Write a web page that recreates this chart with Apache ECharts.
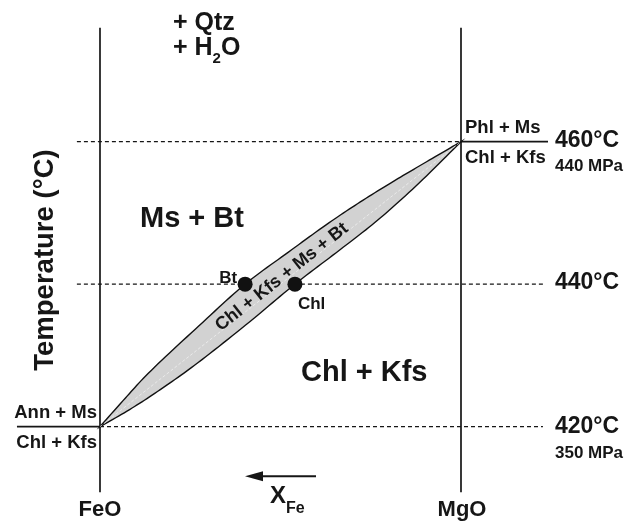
<!DOCTYPE html>
<html><head><meta charset="utf-8">
<script src="https://cdn.jsdelivr.net/npm/echarts@6/dist/echarts.min.js"></script>
<style>html,body{margin:0;padding:0;background:#fff}#c{width:635px;height:522px}</style>
</head><body><div id="c"></div>
<script>
// ---- data ----
// x: composition, 0 = FeO end, 100 = MgO end ; y: temperature (°C)
const endMembers = ['FeO', 'MgO'];
const isotherms = [420, 440, 460];
const isothermLabels = ['420°C', '440°C', '460°C'];
const pressureLabels = ['350 MPa', null, '440 MPa'];
// Bt (upper, Fe-richer) boundary of the Chl + Kfs + Ms + Bt loop
const btCurve = [[0,420],[7.0,424.0],[14.2,427.9],[27.5,434.2],[40.2,440],[52.2,444.5],[63.4,448.6],[72.9,451.8],[82.5,454.8],[91.2,457.4],[100,460]];
// Chl (lower) boundary
const chlCurve = [[0,420],[8.2,422.4],[16.7,425.2],[27.2,429.0],[41.4,434.7],[54.0,440],[66.4,444.8],[77.2,449.1],[88.4,454.2],[100,460]];
const btPoint = [40.2, 440];
const chlPoint = [54.0, 440];
const axisTempRange = [410.8, 476];

const FONT = '"Liberation Sans", Arial, Helvetica, sans-serif';
const INK = '#161616';

const chart = echarts.init(document.getElementById('c'), null, {renderer: 'canvas'});

function seg(data, dashed, w) {
  return {
    type: 'line', data: data, symbol: 'none', clip: false, silent: true, z: 1,
    lineStyle: {color: INK, width: w || 1.3, type: dashed ? [4, 3] : 'solid'},
    animation: false
  };
}

// Catmull-Rom smoothing in pixel space (same idea as a smoothed line)
function smoothPath(pts) {
  const out = [];
  for (let i = 0; i < pts.length - 1; i++) {
    const p0 = pts[Math.max(i - 1, 0)], p1 = pts[i], p2 = pts[i + 1], p3 = pts[Math.min(i + 2, pts.length - 1)];
    for (let k = 0; k < 12; k++) {
      const t = k / 12, t2 = t * t, t3 = t2 * t;
      const f = (a, b, c, d) => 0.5 * ((2 * b) + (-a + c) * t + (2 * a - 5 * b + 4 * c - d) * t2 + (-a + 3 * b - 3 * c + d) * t3);
      out.push([f(p0[0], p1[0], p2[0], p3[0]), f(p0[1], p1[1], p2[1], p3[1])]);
    }
  }
  out.push(pts[pts.length - 1]);
  return out;
}

const series = [
  seg([[0, axisTempRange[0]], [0, axisTempRange[1]]], false, 1.7),
  seg([[100, axisTempRange[0]], [100, axisTempRange[1]]], false, 1.7),
  // isotherms
  seg([[-6.4, isotherms[2]], [100, isotherms[2]]], true),
  seg([[100, isotherms[2]], [124.1, isotherms[2]]], false, 1.6),
  seg([[-6.4, isotherms[1]], [122.7, isotherms[1]]], true),
  seg([[0, isotherms[0]], [122.7, isotherms[0]]], true),
  seg([[-23, isotherms[0]], [0, isotherms[0]]], false, 1.6),
  // loop
  {
    type: 'custom', z: 2, silent: true, animation: false, clip: false,
    data: [0],
    renderItem: function (params, api) {
      const up = smoothPath(btCurve.map(p => api.coord(p)));
      const lo = smoothPath(chlCurve.map(p => api.coord(p)));
      const pts = up.concat(lo.slice(0, -1).reverse());
      const a = api.coord(btCurve[0]), b = api.coord(btCurve[btCurve.length - 1]);
      return {
        type: 'group',
        children: [
          {type: 'polygon', shape: {points: pts}, style: {fill: '#d2d2d2', stroke: '#111', lineWidth: 1.4, lineJoin: 'miter'}},
          {type: 'line', shape: {x1: a[0], y1: a[1], x2: b[0], y2: b[1]}, style: {stroke: '#f4f4f4', lineWidth: 0.7, lineDash: [3, 2]}}
        ]
      };
    }
  },
  {
    type: 'scatter', z: 3, silent: true, animation: false,
    symbolSize: 15, itemStyle: {color: '#111', opacity: 1},
    data: [btPoint, chlPoint]
  }
];

// grid spans the whole canvas; axis range chosen so FeO sits at x=100px, MgO at x=461px
chart.setOption({
  animation: false,
  backgroundColor: '#fff',
  grid: {left: 0, right: 0, top: 27.67, bottom: 24.08},
  xAxis: {type: 'value', min: -27.7, max: 148.2, show: false},
  yAxis: {type: 'value', min: 410, max: 476, show: false},
  series: series
});

// ---- text annotations ----
const mctx = document.createElement('canvas').getContext('2d');
function tw(t, size) { mctx.font = 'bold ' + size + 'px ' + FONT; return mctx.measureText(t).width; }
function txt(t, x, y, size, align, extra) {
  return Object.assign({
    type: 'text', x: x, y: y, z: 10, silent: true,
    style: {text: t, fill: INK, fontSize: size, fontWeight: 'bold', fontFamily: FONT,
            align: align || 'left', verticalAlign: 'middle', textAlign: align || 'left', textVerticalAlign: 'middle'}
  }, extra || {});
}
const px = p => chart.convertToPixel({gridIndex: 0}, p);
const yT = T => px([0, T])[1];
const xL = px([0, 420])[0], xR = px([100, 420])[0];

const g = [];
// + Qtz, + H2O
g.push(txt('+ Qtz', 173, 23.1, 25));
let hx = 173;
g.push(txt('+ H', hx, 48.1, 25)); hx += tw('+ H', 25);
g.push(txt('2', hx, 58.6, 15)); hx += tw('2', 15);
g.push(txt('O', hx, 48.1, 25));
// field labels
g.push(txt('Ms + Bt', 140, 218.8, 29));
g.push(txt('Chl + Kfs', 301, 372.5, 29));
// y title
g.push(txt('Temperature (°C)', 45, 260, 27.5, 'center', {rotation: Math.PI / 2}));
// reaction labels at the end members
const y420 = yT(isotherms[0]), y440 = yT(isotherms[1]), y460 = yT(isotherms[2]);
g.push(txt('Ann + Ms', xL - 3, y420 - 13.3, 18.5, 'right'));
g.push(txt('Chl + Kfs', xL - 3, y420 + 16.7, 18.5, 'right'));
g.push(txt('Phl + Ms', xR + 4, y460 - 13.6, 18.5));
g.push(txt('Chl + Kfs', xR + 4, y460 + 16.4, 18.5));
// isotherm labels
const lblX = 555;
g.push(txt(isothermLabels[2], lblX, y460 - 1, 23));
g.push(txt(pressureLabels[2], lblX, y460 + 24.5, 17));
g.push(txt(isothermLabels[1], lblX, y440 - 1.7, 23));
g.push(txt(isothermLabels[0], lblX, y420 + 0.3, 23));
g.push(txt(pressureLabels[0], lblX, y420 + 26.5, 17));
// end-member labels
g.push(txt(endMembers[0], xL, 510, 22, 'center'));
g.push(txt(endMembers[1], xR + 1, 510, 22, 'center'));
// X_Fe
g.push(txt('X', 270, 496.5, 24));
g.push(txt('Fe', 270 + tw('X', 24), 509, 16));
// arrow
g.push({type: 'line', z: 10, silent: true, shape: {x1: 316, y1: 476.3, x2: 258, y2: 476.3}, style: {stroke: INK, lineWidth: 2}});
g.push({type: 'polygon', z: 10, silent: true, shape: {points: [[245, 476.3], [263, 471.3], [263, 481.3]]}, style: {fill: INK}});
// phase point labels
const bp = px(btPoint), cp = px(chlPoint);
g.push(txt('Bt', bp[0] - 8, bp[1] - 6, 17, 'right'));
g.push(txt('Chl', cp[0] + 3, cp[1] + 20, 17));
// loop label
const mid = px([50.4, 441.0]);
g.push(txt('Chl + Kfs + Ms + Bt', mid[0], mid[1], 18, 'center', {rotation: Math.atan2(y420 - y460, xR - xL)}));

chart.setOption({graphic: {elements: g}});
</script>
</body></html>
